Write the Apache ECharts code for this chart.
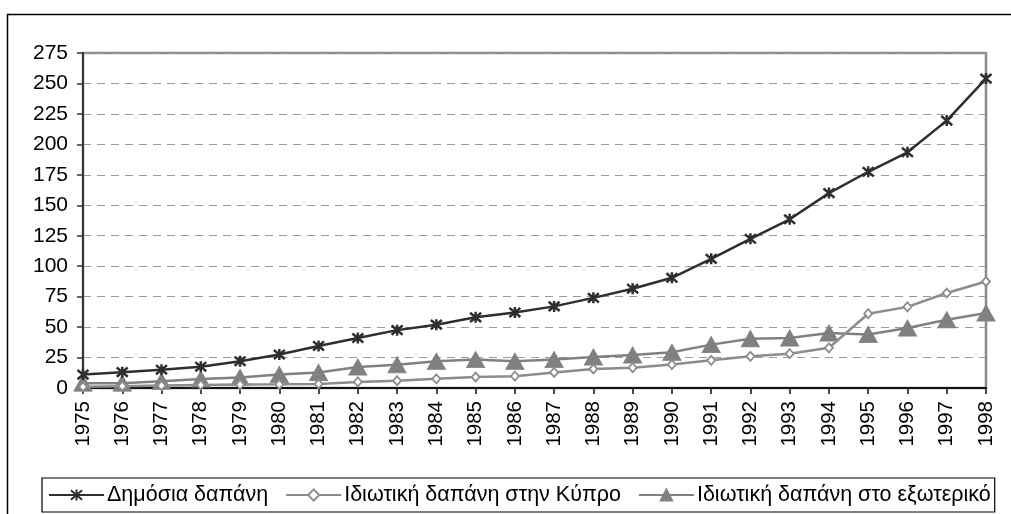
<!DOCTYPE html>
<html>
<head>
<meta charset="utf-8">
<script src="https://cdn.jsdelivr.net/npm/echarts@6/dist/echarts.min.js"></script>
<style>
  html, body { margin: 0; padding: 0; background: #fff; }
  #chart { width: 1011px; height: 514px; }
</style>
</head>
<body>
<div id="chart"></div>
<script>
// χρονιές
const years = ['1975', '1976', '1977', '1978', '1979', '1980', '1981', '1982', '1983', '1984', '1985', '1986',
  '1987', '1988', '1989', '1990', '1991', '1992', '1993', '1994', '1995', '1996', '1997', '1998']

// Δημόσια δαπάνη
const publicSpend = [11, 13, 15, 17.5, 22, 27.5, 34.5, 41, 47.5, 52, 58, 62,
  67, 74, 81.5, 90.5, 106, 122.5, 138.5, 160, 177.5, 193.5, 219.5, 254]

// Ιδιωτική δαπάνη στην Κύπρο
const privateCyprus = [1, 1.5, 2, 2.5, 2.8, 3, 3.3, 5, 6, 7.5, 9, 9.7,
  12.8, 15.6, 16.7, 19.2, 22.7, 26, 28.2, 33, 61, 66.6, 78, 87.4]

// Ιδιωτική δαπάνη στο εξωτερικό
const privateAbroad = [4, 4, 5.5, 7.4, 8.7, 11, 12.8, 17.2, 19, 22, 23.3, 22,
  23.3, 25.5, 27, 29.3, 35.6, 40.5, 41, 45.2, 44, 49.3, 56, 61.6]

const seriesNames = ['Δημόσια δαπάνη', 'Ιδιωτική δαπάνη στην Κύπρο', 'Ιδιωτική δαπάνη στο εξωτερικό']

const font = 'Liberation Sans, Arial, sans-serif'
const star = 'path://M0,0L10,10M10,0L0,10M5,-1L5,11'

let myChart = echarts.init(document.getElementById('chart'))
myChart.setOption({
  animation: false,
  textStyle: { fontFamily: font },
  graphic: [{
    type: 'rect',
    shape: { x: 7.5, y: 14.5, width: 1020, height: 520 },
    style: { fill: 'none', stroke: '#000', lineWidth: 1.5 }
  }],
  grid: {
    left: 83,
    right: 25,
    top: 53,
    bottom: 126,
    show: true,
    borderColor: '#8a8a8a',
    borderWidth: 2.5,
    containLabel: false
  },
  legend: {
    left: 42,
    top: 478,
    padding: [6, 4, 6, 6],
    itemGap: 17,
    itemWidth: 55,
    itemHeight: 14,
    borderColor: '#000',
    borderWidth: 1.2,
    textStyle: { fontSize: 21.5, color: '#000', fontFamily: font, padding: [0, 0, 0, -2] },
    data: seriesNames
  },
  xAxis: {
    type: 'category',
    data: years,
    boundaryGap: false,
    axisLine: { lineStyle: { color: '#111', width: 2 } },
    axisTick: { show: true, length: 6, alignWithLabel: true, lineStyle: { color: '#111', width: 1.5 } },
    axisLabel: { rotate: 90, fontSize: 20.5, color: '#000', margin: 13, fontFamily: font },
    splitLine: { show: false }
  },
  yAxis: {
    type: 'value',
    min: 0,
    max: 275,
    interval: 25,
    axisLine: { show: true, lineStyle: { color: '#333', width: 2 } },
    axisTick: { show: true, length: 6, lineStyle: { color: '#333', width: 1.5 } },
    axisLabel: { fontSize: 21, color: '#000', margin: 15, fontFamily: font },
    splitLine: { lineStyle: { color: '#9a9a9a', type: [8, 6], width: 1 } }
  },
  series: [
    {
      name: seriesNames[2],
      type: 'line',
      data: privateAbroad,
      symbol: 'triangle',
      symbolSize: [18, 16],
      lineStyle: { color: '#808080', width: 2.5 },
      itemStyle: { color: '#808080', borderColor: '#808080', borderWidth: 1 },
      z: 2
    },
    {
      name: seriesNames[1],
      type: 'line',
      data: privateCyprus,
      symbol: 'diamond',
      symbolSize: [8, 9],
      lineStyle: { color: '#8c8c8c', width: 2.5 },
      itemStyle: { color: '#fff', borderColor: '#8c8c8c', borderWidth: 1.8 },
      z: 3
    },
    {
      name: seriesNames[0],
      type: 'line',
      data: publicSpend,
      symbol: star,
      symbolSize: 11,
      lineStyle: { color: '#2e2e2e', width: 2.5 },
      itemStyle: { color: '#2e2e2e', borderColor: '#2e2e2e', borderWidth: 2.5 },
      z: 4
    }
  ]
})
</script>
</body>
</html>
